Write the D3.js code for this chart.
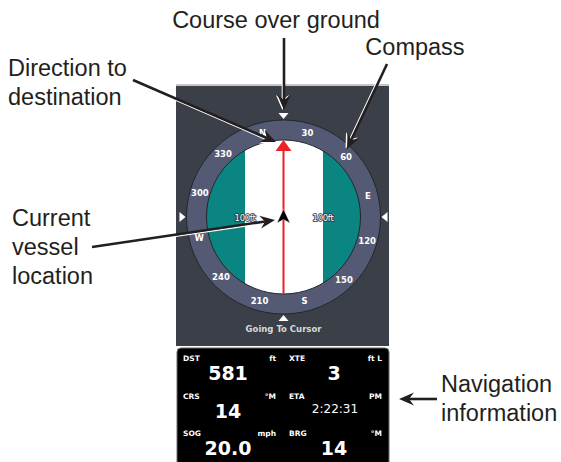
<!DOCTYPE html>
<html>
<head>
<meta charset="utf-8">
<script src="https://cdn.jsdelivr.net/npm/d3@7"></script>
<style>
  body { margin: 0; background: #fff; }
  svg { display: block; }
</style>
</head>
<body>
<div id="chart"></div>
<script>
// compass card
const bearings = [0, 30, 60, 90, 120, 150, 180, 210, 240, 270, 300, 330];
const bearingLabels = ['N', '30', '60', 'E', '120', '150', 'S', '210', '240', 'W', '300', '330'];
const heading = 14;
const rangeLabels = ['100ft', '100ft'];

// navigation data box
const navLabels = ['DST', 'XTE', 'CRS', 'ETA', 'SOG', 'BRG'];
const navUnits = ['ft', 'ft L', '°M', 'PM', 'mph', '°M'];
const navValues = ['581', '3', '14', '2:22:31', '20.0', '14'];

// callouts
const calloutText = [
  ['Course over ground'],
  ['Compass'],
  ['Direction to', 'destination'],
  ['Current', 'vessel', 'location'],
  ['Navigation', 'information']
];

const width = 561, height = 462;
const svg = d3.select('#chart').append('svg')
  .attr('width', width).attr('height', height);

// screen panel
const panel = { x0: 176, x1: 389, y0: 86, y1: 346 };
svg.append('rect')
  .attr('x', panel.x0).attr('y', panel.y0)
  .attr('width', panel.x1 - panel.x0).attr('height', panel.y1 - panel.y0)
  .attr('fill', '#3b4048');
svg.append('rect')
  .attr('x', panel.x0).attr('y', panel.y0 - 2)
  .attr('width', panel.x1 - panel.x0).attr('height', 2)
  .attr('fill', '#c4c6c8');

const cx = 283.5, cy = 217, rOuter = 97, rInner = 77;
const g = svg.append('g').attr('transform', `translate(${cx},${cy})`);

// angle scale, rotated by heading
const ang = d3.scaleLinear().domain([0, 360]).range([0, 2 * Math.PI]);
const rot = b => ang(b - heading);

// ring
g.append('circle').attr('r', rOuter).attr('fill', '#555a74')
  .attr('stroke', '#23262e').attr('stroke-width', 1);

// inner chart area: teal with white channel
g.append('clipPath').attr('id', 'inner')
  .append('circle').attr('r', rInner);
const inner = g.append('g').attr('clip-path', 'url(#inner)');
inner.append('rect')
  .attr('x', -rInner).attr('y', -rInner)
  .attr('width', rInner * 2).attr('height', rInner * 2)
  .attr('fill', '#0b8581');
const channel = d3.scaleLinear().domain([-1, 1]).range([-38.5, 39.5]);
inner.append('rect')
  .attr('x', channel(-1)).attr('y', -rInner)
  .attr('width', channel(1) - channel(-1)).attr('height', rInner * 2)
  .attr('fill', '#ffffff');
g.append('circle').attr('r', rInner).attr('fill', 'none')
  .attr('stroke', '#23262e').attr('stroke-width', 1);

// bearing labels
const rLab = (rOuter + rInner) / 2;
g.selectAll('.blab')
  .data(bearings)
  .enter()
  .append('text')
  .attr('class', 'blab')
  .attr('x', d => rLab * Math.sin(rot(d)))
  .attr('y', d => -rLab * Math.cos(rot(d)))
  .attr('dy', '0.36em')
  .attr('text-anchor', 'middle')
  .style('font-family', 'DejaVu Sans')
  .style('font-weight', 'bold')
  .style('font-size', '8.5px')
  .style('fill', '#ffffff')
  .text((d, i) => bearingLabels[i]);

// white markers around ring (COG top, bottom, sides)
const markers = [0, 90, 180, 270];
g.selectAll('.mark')
  .data(markers)
  .enter()
  .append('path')
  .attr('class', 'mark')
  .attr('d', 'M-5,-4 L5,-4 L0,2 Z')
  .attr('transform', d => `rotate(${d}) translate(0,${-rOuter - 3})`)
  .attr('fill', '#ffffff');

// red course line and destination triangle
g.append('line')
  .attr('x1', 0).attr('x2', 0)
  .attr('y1', -rInner + 10).attr('y2', rInner)
  .attr('stroke', '#e4222a').attr('stroke-width', 2);
g.append('path')
  .attr('d', `M0,${-rInner} L8,${-rInner + 11} L-8,${-rInner + 11} Z`)
  .attr('fill', '#ee2026');

// range labels
const rangeX = d3.scaleOrdinal().domain([0, 1]).range([-rInner / 2, rInner / 2 + 1]);
g.selectAll('.rlab')
  .data(rangeLabels)
  .enter()
  .append('text')
  .attr('x', (d, i) => rangeX(i))
  .attr('y', 4)
  .attr('text-anchor', 'middle')
  .style('font-family', 'DejaVu Sans')
  .style('font-size', '8.5px')
  .style('letter-spacing', '-0.3px')
  .style('fill', '#ffffff')
  .style('stroke', '#333')
  .style('stroke-width', 1.6)
  .style('paint-order', 'stroke')
  .text(d => d);

// vessel icon
g.append('path')
  .attr('d', 'M0,-8 L6.5,6 L0,2.5 L-6.5,6 Z')
  .attr('fill', '#000')
  .attr('stroke', '#fff').attr('stroke-width', 0.4);

g.append('text')
  .attr('x', 0).attr('y', 115)
  .attr('text-anchor', 'middle')
  .style('font-family', 'DejaVu Sans')
  .style('font-weight', 'bold')
  .style('font-size', '8.5px')
  .style('fill', '#d8d8d8')
  .text('Going To Cursor');

// data box
const box = { x0: 177, x1: 389, y0: 348, y1: 470 };
svg.append('rect')
  .attr('x', box.x0).attr('y', box.y0)
  .attr('width', box.x1 - box.x0).attr('height', box.y1 - box.y0)
  .attr('rx', 4)
  .attr('fill', '#000').attr('stroke', '#6a6a6a').attr('stroke-width', 1);

const col = d3.scaleBand().domain([0, 1]).range([box.x0, box.x1]);
const row = d3.scaleBand().domain([0, 1, 2]).range([349, 462]);

const cells = svg.selectAll('.cell')
  .data(navLabels)
  .enter()
  .append('g')
  .attr('class', 'cell')
  .attr('transform', (d, i) => `translate(${col(i % 2)},${row(Math.floor(i / 2))})`);

cells.append('text')
  .attr('x', 6).attr('y', 12)
  .style('font-family', 'DejaVu Sans').style('font-weight', 'bold')
  .style('font-size', '7.5px').style('fill', '#fff')
  .text(d => d);
cells.append('text')
  .attr('x', col.bandwidth() - 7).attr('y', 12)
  .attr('text-anchor', 'end')
  .style('font-family', 'DejaVu Sans').style('font-weight', 'bold')
  .style('font-size', '7.5px').style('fill', '#fff')
  .text((d, i) => navUnits[i]);
cells.append('text')
  .attr('x', (d, i) => col.bandwidth() / 2 - (i === 3 ? 1 : 2))
  .attr('y', (d, i) => i === 3 ? 26 : 31)
  .attr('text-anchor', 'middle')
  .style('font-family', 'DejaVu Sans')
  .style('font-weight', (d, i) => i === 3 ? 'normal' : 'bold')
  .style('font-size', (d, i) => i === 3 ? '12px' : '19px')
  .style('fill', '#fff')
  .text((d, i) => navValues[i]);

// callout text
const textPos = [
  { x: 276, y: 28, anchor: 'middle' },
  { x: 415, y: 55, anchor: 'middle' },
  { x: 8, y: 76, anchor: 'start' },
  { x: 12, y: 226, anchor: 'start' },
  { x: 441, y: 392, anchor: 'start' }
];
calloutText.forEach((lines, k) => {
  const t = svg.append('text')
    .attr('x', textPos[k].x).attr('y', textPos[k].y)
    .attr('text-anchor', textPos[k].anchor)
    .style('font-family', 'Liberation Sans, Arial, sans-serif')
    .style('font-size', '23.5px')
    .style('fill', '#231f20');
  lines.forEach((s, j) => {
    t.append('tspan').attr('x', textPos[k].x).attr('dy', j === 0 ? 0 : 29).text(s);
  });
});

// callout arrows: [from, tip, highlight]
const arrows = [
  { from: [284, 38], to: [284, 110], hl: true },
  { from: [387, 64], to: [347, 149], hl: true },
  { from: [133, 80], to: [276, 142], hl: true },
  { from: [92, 247], to: [275, 220], hl: true },
  { from: [437, 399], to: [399, 399], hl: false }
];

function drawArrow(a) {
  const [x1, y1] = a.from, [x2, y2] = a.to;
  const dx = x2 - x1, dy = y2 - y1, len = Math.hypot(dx, dy);
  const ux = dx / len, uy = dy / len;
  const px = -uy, py = ux;
  const L = 15, W = 6.5, N = 10;
  const head = [
    [x2, y2],
    [x2 - ux * L + px * W, y2 - uy * L + py * W],
    [x2 - ux * N, y2 - uy * N],
    [x2 - ux * L - px * W, y2 - uy * L - py * W]
  ];
  const ag = svg.append('g');
  if (a.hl) {
    const o = 1.6;
    ag.append('line')
      .attr('x1', x1 + px * o).attr('y1', y1 + py * o)
      .attr('x2', x2 - ux * N + px * o).attr('y2', y2 - uy * N + py * o)
      .attr('stroke', '#fff').attr('stroke-width', 1.4);
    ag.append('path')
      .attr('d', d3.line()(head.map(p => [p[0] + px * o, p[1] + py * o])) + 'Z')
      .attr('fill', '#fff');
  }
  ag.append('line')
    .attr('x1', x1).attr('y1', y1)
    .attr('x2', x2 - ux * N).attr('y2', y2 - uy * N)
    .attr('stroke', '#231f20').attr('stroke-width', 2.6);
  ag.append('path')
    .attr('d', d3.line()(head) + 'Z')
    .attr('fill', '#231f20');
}
arrows.forEach(drawArrow);
</script>
</body>
</html>
